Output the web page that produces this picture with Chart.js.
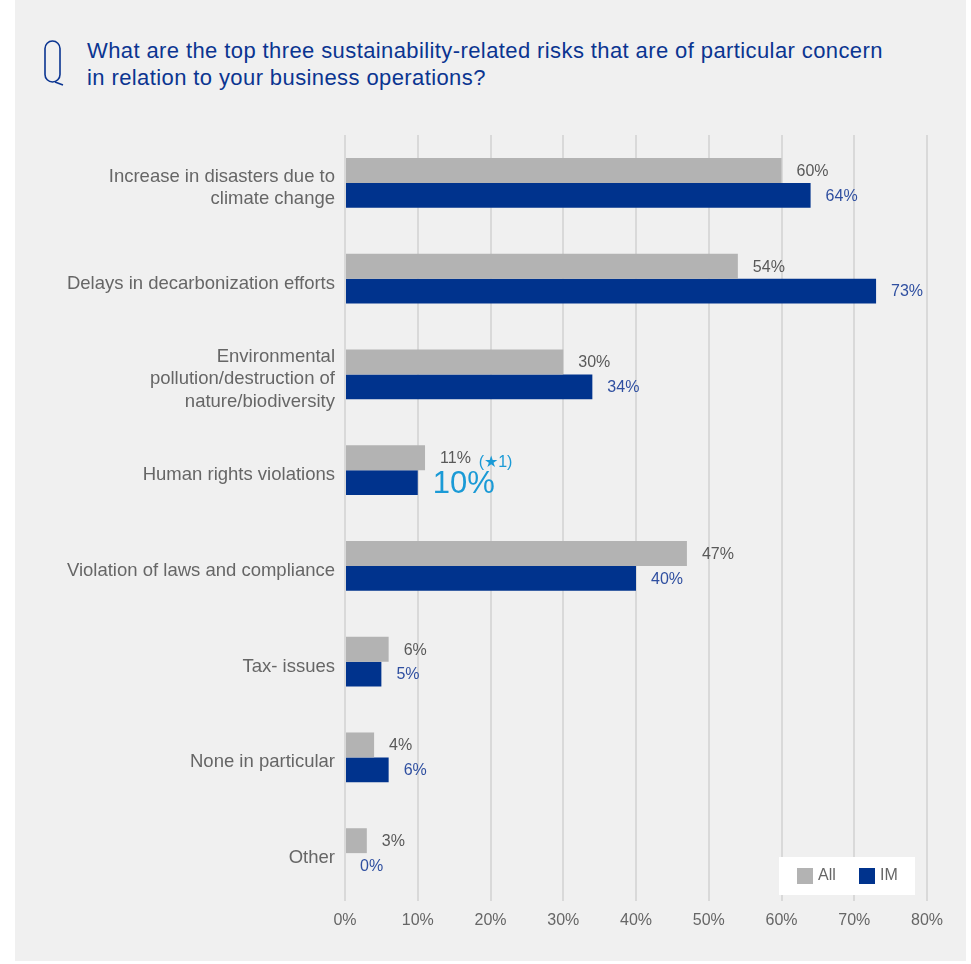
<!DOCTYPE html>
<html>
<head>
<meta charset="utf-8">
<script src="https://cdn.jsdelivr.net/npm/chart.js@4"></script>
<style>
  html, body { margin: 0; padding: 0; background: #fff; }
  #panel { position: absolute; left: 15px; top: 0; width: 951px; height: 961px; background: #f0f0f0; }
  #title { position: absolute; left: 87px; top: 37px; font-family: "Liberation Sans", Arial, sans-serif;
           font-size: 22px; letter-spacing: 0.4px; line-height: 27px; color: #0b3591; white-space: nowrap; }
  #qicon { position: absolute; left: 42px; top: 39px; }
  #wrap { position: absolute; left: 0; top: 0; width: 971px; height: 964px; }
</style>
</head>
<body>
<div id="panel"></div>
<svg id="qicon" width="26" height="50" viewBox="0 0 26 50">
  <rect x="3" y="2" width="15" height="41" rx="7.5" ry="7.5" fill="none" stroke="#0b3591" stroke-width="1.6"/>
  <path d="M13 43 L21 46" fill="none" stroke="#0b3591" stroke-width="1.6"/>
</svg>
<div id="title">What are the top three sustainability-related risks that are of particular concern<br>in relation to your business operations?</div>
<div id="wrap"><canvas id="c" width="971" height="964"></canvas></div>
<script>
const categories = [
  ["Increase in disasters due to", "climate change"],
  "Delays in decarbonization efforts",
  ["Environmental", "pollution/destruction of", "nature/biodiversity"],
  "Human rights violations",
  "Violation of laws and compliance",
  "Tax- issues",
  "None in particular",
  "Other"
];
const allValues = [60, 54, 30, 11, 47, 6, 4, 3];
const imValues  = [64, 73, 34, 10, 40, 5, 6, 0];
const xTicks = [0, 10, 20, 30, 40, 50, 60, 70, 80];
const highlightIndex = 3;
const highlightNote = "(\u26051)";

const FONT = "'Liberation Sans', Arial, sans-serif";

const labelPlugin = {
  id: "barLabels",
  afterDatasetsDraw(chart) {
    const ctx = chart.ctx;
    ctx.save();
    ctx.textBaseline = "middle";
    ctx.textAlign = "left";
    const colors = ["#595959", "#2f4fa0"];
    chart.data.datasets.forEach((ds, di) => {
      const meta = chart.getDatasetMeta(di);
      meta.data.forEach((bar, i) => {
        const txt = ds.data[i] + "%";
        if (di === 1 && i === highlightIndex) {
          ctx.font = "31px " + FONT;
          ctx.fillStyle = "#1a9ad6";
          ctx.fillText(txt, bar.x + 15, bar.y + 2);
          return;
        }
        ctx.font = "16px " + FONT;
        ctx.fillStyle = colors[di];
        ctx.fillText(txt, bar.x + 15, bar.y + 1);
        if (di === 0 && i === highlightIndex) {
          const w = ctx.measureText(txt).width;
          ctx.font = "16px " + FONT;
          ctx.fillStyle = "#1a9ad6";
          ctx.fillText(highlightNote, bar.x + 23 + w, bar.y + 5);
        }
      });
    });
    // legend box
    const x0 = 779, y0 = 857;
    ctx.fillStyle = "#ffffff";
    ctx.fillRect(x0, y0, 136, 38);
    ctx.font = "16px " + FONT;
    chart.data.datasets.forEach((ds, di) => {
      const lx = x0 + 18 + di * 62;
      ctx.fillStyle = ds.backgroundColor;
      ctx.fillRect(lx, y0 + 11, 16, 16);
      ctx.fillStyle = "#666";
      ctx.fillText(ds.label, lx + 21, y0 + 19);
    });
    ctx.restore();
  }
};

new Chart(document.getElementById("c"), {
  type: "bar",
  data: {
    labels: categories,
    datasets: [
      { label: "All", data: allValues, backgroundColor: "#b3b3b3" },
      { label: "IM", data: imValues, backgroundColor: "#00338d" }
    ]
  },
  options: {
    indexAxis: "y",
    responsive: false,
    animation: false,
    layout: { padding: { top: 135, right: 44, left: 0, bottom: 0 } },
    datasets: { bar: { categoryPercentage: 0.52, barPercentage: 1 } },
    plugins: { legend: { display: false }, tooltip: { enabled: false } },
    scales: {
      x: {
        min: 0, max: 80,
        afterBuildTicks: s => { s.ticks = xTicks.map(v => ({ value: v })); },
        afterFit: s => { s.height = 63; },
        grid: { color: "#d9d9d9", lineWidth: 2, drawTicks: false },
        border: { display: false },
        ticks: { callback: v => v + "%", color: "#666", font: { size: 16, family: FONT }, padding: 10 }
      },
      y: {
        afterFit: s => { s.width = 345; },
        grid: { display: false },
        border: { display: false },
        ticks: { color: "#666", font: { size: 18.5, family: FONT, lineHeight: 1.2 }, padding: 2, labelOffset: 5 }
      }
    }
  },
  plugins: [labelPlugin]
});
</script>
</body>
</html>
